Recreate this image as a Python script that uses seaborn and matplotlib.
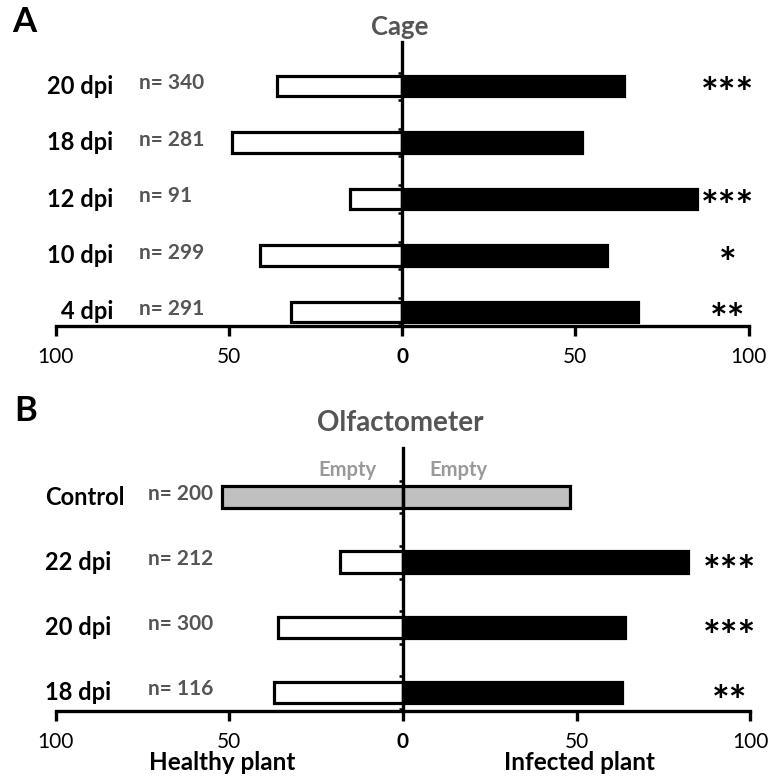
import numpy as np
import pandas as pd
import seaborn as sns
import matplotlib.pyplot as plt

sns.set_style("white")
plt.rcParams['font.family'] = ['Lato', 'DejaVu Sans']

# Panel A - cage
cage_labels = ['20 dpi', '18 dpi', '12 dpi', '10 dpi', '4 dpi']
cage_n = ['n= 340', 'n= 281', 'n= 91', 'n= 299', 'n= 291']
cage_healthy = [36, 49, 15, 41, 32]
cage_infected = [64, 52, 85, 59, 68]
cage_stars = ['***', '', '***', '*', '**']

# Panel B - olfactometer
olf_labels = ['Control', '22 dpi', '20 dpi', '18 dpi']
olf_n = ['n= 200', 'n= 212', 'n= 300', 'n= 116']
olf_healthy = [52, 18, 36, 37]
olf_infected = [48, 82, 64, 63]
olf_stars = ['', '***', '***', '**']

xticks = [-100, -50, 0, 50, 100]
xticklabels = ['100', '50', '0', '50', '100']

fig = plt.figure(figsize=(7.69, 7.80), dpi=100)
ax1 = fig.add_axes([0.0725, 0.582, 0.901, 0.364])
ax2 = fig.add_axes([0.0725, 0.0885, 0.903, 0.337])
ax1.patch.set_alpha(0)
ax2.patch.set_alpha(0)


def draw_panel(ax, labels, healthy, infected, nlab, stars, width, ylim, tick_off, lab_x, lab_ha, n_x):
    df = pd.DataFrame({'label': labels, 'healthy': -np.array(healthy),
                       'infected': np.array(infected)})
    left_pal = {l: ('#c0c0c0' if l == 'Control' else 'white') for l in labels}
    right_pal = {l: ('#c0c0c0' if l == 'Control' else 'black') for l in labels}
    sns.barplot(data=df, x='healthy', y='label', hue='label', palette=left_pal,
                order=labels, hue_order=labels, dodge=False, legend=False,
                orient='h', width=width, edgecolor='black', linewidth=2.3,
                saturation=1, ax=ax)
    sns.barplot(data=df, x='infected', y='label', hue='label', palette=right_pal,
                order=labels, hue_order=labels, dodge=False, legend=False,
                orient='h', width=width, edgecolor='black', linewidth=2.3,
                saturation=1, ax=ax)
    ax.set_xlim(-100, 100)
    ax.set_ylim(*ylim)
    ax.set_xlabel('')
    ax.set_ylabel('')
    for s in ['top', 'right']:
        ax.spines[s].set_visible(False)
    ax.spines['left'].set_position(('data', 0))
    ax.spines['left'].set_linewidth(2.4)
    ax.spines['bottom'].set_linewidth(2.4)
    ax.spines['left'].set_color('black')
    ax.spines['bottom'].set_color('black')
    yt = []
    for i in range(len(labels)):
        yt += [i - tick_off, i + tick_off]
    ax.set_yticks(yt)
    ax.set_yticklabels([])
    ax.tick_params(axis='y', direction='out', length=3, width=1.8, color='black', left=True)
    ax.set_xticks(xticks)
    ax.set_xticklabels(xticklabels, fontsize=15, color='black')
    ax.get_xticklabels()[2].set_fontweight('bold')
    ax.tick_params(axis='x', direction='out', length=7, width=2.4, color='black',
                   bottom=True, pad=8)
    for i in range(len(labels)):
        ax.text(lab_x, i, labels[i], ha=lab_ha, va='center', fontsize=17,
                fontweight='bold', color='black', clip_on=False)
        ax.text(n_x, i - 0.05, nlab[i], ha='left', va='center', fontsize=15,
                fontweight='bold', color='#555555')
        ax.text(94, i + 0.18, stars[i], ha='center', va='center', fontsize=30,
                fontweight='bold', color='black')


draw_panel(ax1, cage_labels, cage_healthy, cage_infected, cage_n, cage_stars,
           0.36, (4.25, -0.78), 0.24, -83.5, 'right', -76)
draw_panel(ax2, olf_labels, olf_healthy, olf_infected, olf_n, olf_stars,
           0.33, (3.28, -0.75), 0.25, -103, 'left', -73.5)

ax2.text(-16, -0.42, 'Empty', ha='center', va='center', fontsize=14.5,
         fontweight='bold', color='#999999')
ax2.text(16, -0.42, 'Empty', ha='center', va='center', fontsize=14.5,
         fontweight='bold', color='#999999')

fig.text(0.52, 1 - 27 / 780, 'Cage', ha='center', va='center', fontsize=18.5,
         fontweight='bold', color='#555555')
fig.text(0.52, 1 - 423 / 780, 'Olfactometer', ha='center', va='center', fontsize=20,
         fontweight='bold', color='#555555')
fig.text(24 / 769, 1 - 22 / 780, 'A', ha='center', va='center', fontsize=25,
         fontweight='bold', color='black')
fig.text(26 / 769, 1 - 411 / 780, 'B', ha='center', va='center', fontsize=25,
         fontweight='bold', color='black')
fig.text(222 / 769, 1 - 763 / 780, 'Healthy plant', ha='center', va='center',
         fontsize=17.5, fontweight='bold', color='black')
fig.text(580 / 769, 1 - 763 / 780, 'Infected plant', ha='center', va='center',
         fontsize=17.5, fontweight='bold', color='black')

fig.savefig('out.png', dpi=100)
